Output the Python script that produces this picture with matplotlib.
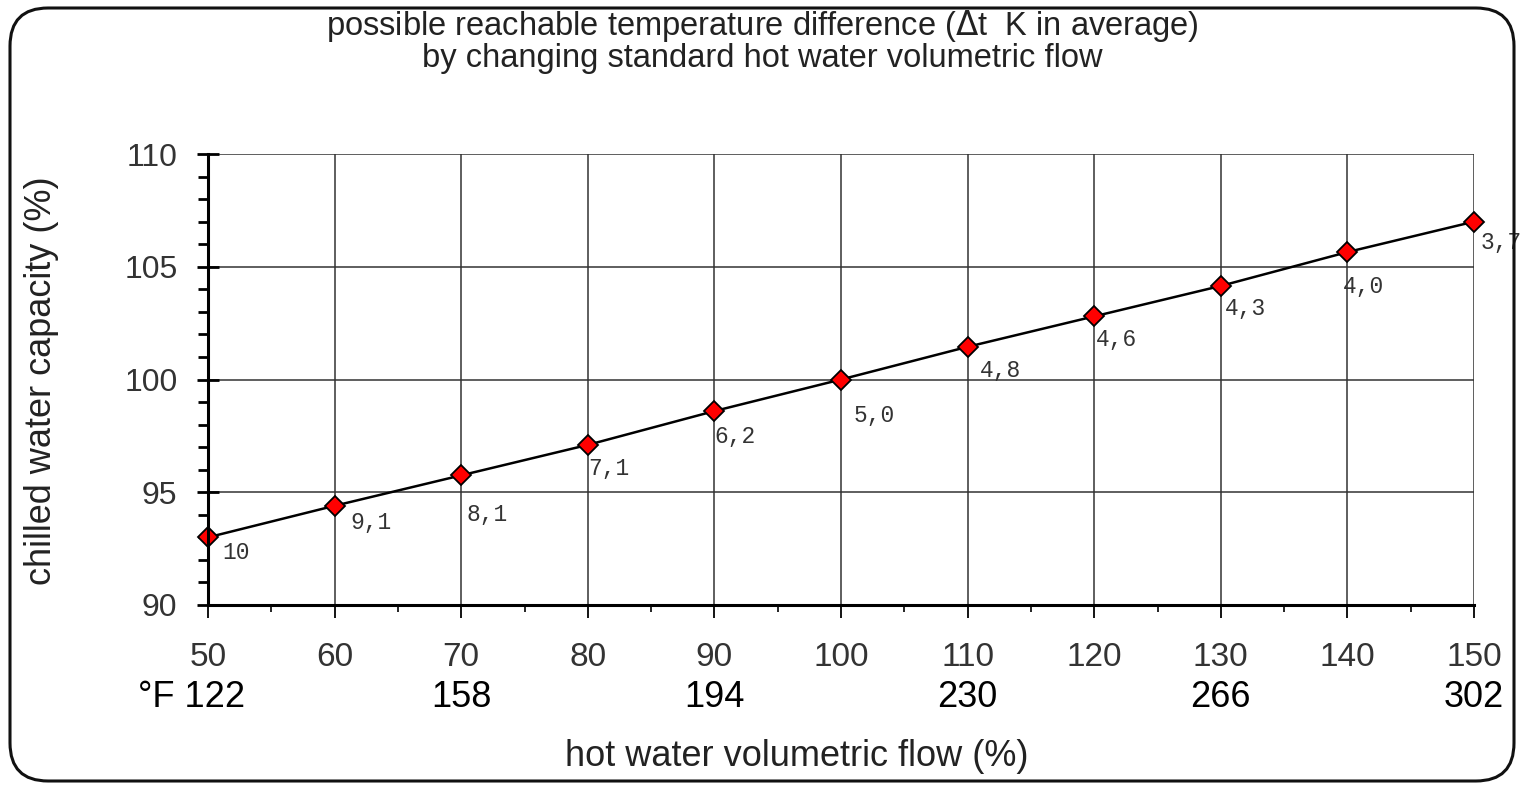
import matplotlib
matplotlib.use("Agg")
import matplotlib.pyplot as plt
from matplotlib.patches import FancyBboxPatch
from matplotlib.ticker import MultipleLocator

plt.rcParams['font.family'] = ['Liberation Sans', 'DejaVu Sans']

# data
flow = [50, 60, 70, 80, 90, 100, 110, 120, 130, 140, 150]
capacity = [93.0, 94.4, 95.75, 97.1, 98.6, 100.0, 101.45, 102.8, 104.15, 105.65, 107.0]
dt_labels = ['10', '9,1', '8,1', '7,1', '6,2', '5,0', '4,8', '4,6', '4,3', '4,0', '3,7']
degF_pos = [50, 70, 90, 110, 130, 150]
degF_labels = ['°F 122', '158', '194', '230', '266', '302']

# label offsets in points (left edge, vertical centre) relative to each marker
lab_off = [(10, -11), (11, -12), (4, -28), (0, -17), (0, -18), (9, -26),
           (9, -17), (1, -17), (3, -16), (-3, -25), (5, -15)]

fig = plt.figure(figsize=(15.24, 7.89), dpi=100)
ax = fig.add_axes([208/1524, 1 - 605/789, (1474-208)/1524, (605-154)/789])

ax.plot(flow, capacity, color='black', lw=1.8, zorder=3)
ax.plot(flow, capacity, ls='none', marker='D', ms=10, mfc='#ff0000', mec='black',
        mew=1.3, zorder=4, clip_on=False)

for x, y, t, (dx, dy) in zip(flow, capacity, dt_labels, lab_off):
    ax.annotate(t, (x, y), xytext=(dx, dy), textcoords='offset points',
                ha='left', va='center', fontsize=16.5, color='#333333',
                family=['Liberation Mono', 'DejaVu Sans Mono'])

ax.set_xlim(50, 150)
ax.set_ylim(90, 110)
ax.xaxis.set_major_locator(MultipleLocator(10))
ax.xaxis.set_minor_locator(MultipleLocator(5))
ax.yaxis.set_major_locator(MultipleLocator(5))
ax.yaxis.set_minor_locator(MultipleLocator(1))
ax.grid(True, which='major', color='#333333', lw=1.1, zorder=1)

for s in ['top', 'right']:
    ax.spines[s].set_visible(False)
ax.spines['left'].set_linewidth(2.2)
ax.spines['bottom'].set_linewidth(2.2)
ax.spines['left'].set_zorder(5)

ax.tick_params(axis='x', which='major', direction='out', length=9, width=1.3,
               pad=18, labelsize=24, labelcolor='#333333')
ax.tick_params(axis='x', which='minor', direction='out', length=5, width=1.2)
ax.tick_params(axis='y', which='major', direction='inout', length=16, width=2,
               pad=14, labelsize=23, labelcolor='#333333')
ax.tick_params(axis='y', which='minor', direction='out', length=7, width=2)

# fahrenheit row under the tick labels
for x, t in zip(degF_pos, degF_labels):
    if x == 50:
        ax.text(52.9, -0.205, t, transform=ax.get_xaxis_transform(), ha='right',
                va='center', fontsize=26, color='black')
    else:
        ax.text(x, -0.205, t, transform=ax.get_xaxis_transform(), ha='center',
                va='center', fontsize=26, color='black')

fig.text(762/1524, 1 - 26/789, 'possible reachable temperature difference ($\\Delta$t  K in average)',
         ha='center', va='center', fontsize=23.5, color='#222222')
fig.text(762/1524, 1 - 59/789, 'by changing standard hot water volumetric flow',
         ha='center', va='center', fontsize=23.5, color='#222222')
fig.text(797/1524, 1 - 757/789, 'hot water volumetric flow (%)',
         ha='center', va='center', fontsize=26, color='#222222')
fig.text(42/1524, 1 - 381/789, 'chilled water capacity (%)', rotation=90,
         ha='center', va='center', fontsize=26, color='#222222')

frame = FancyBboxPatch((10/1524, 8/789), 1504/1524, 773/789,
                       boxstyle='round,pad=0,rounding_size=0.025',
                       transform=fig.transFigure, fill=False, ec='#111111', lw=2.2,
                       mutation_aspect=1524/789)
fig.patches.append(frame)

fig.savefig('out.png', dpi=100)
